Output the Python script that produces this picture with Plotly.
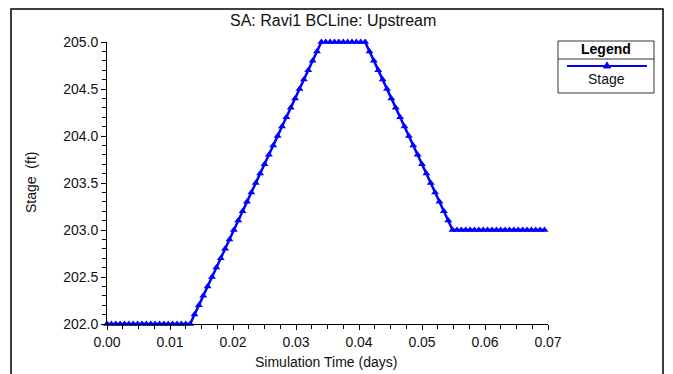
import plotly.graph_objects as go

# time step in minutes (converted to days below)
minutes = [0, 1, 2, 3, 4, 5, 6, 7, 8, 9, 10, 11, 12, 13, 14, 15, 16, 17, 18, 19,
           20, 21, 22, 23, 24, 25, 26, 27, 28, 29, 30, 31, 32, 33, 34, 35, 36, 37, 38, 39,
           40, 41, 42, 43, 44, 45, 46, 47, 48, 49, 50, 51, 52, 53, 54, 55, 56, 57, 58, 59,
           60, 61, 62, 63, 64, 65, 66, 67, 68, 69, 70, 71, 72, 73, 74, 75, 76, 77, 78, 79,
           80, 81, 82, 83, 84, 85, 86, 87, 88, 89, 90, 91, 92, 93, 94, 95, 96, 97, 98, 99, 100]
stage = [202.0, 202.0, 202.0, 202.0, 202.0, 202.0, 202.0, 202.0, 202.0, 202.0,
         202.0, 202.0, 202.0, 202.0, 202.0, 202.0, 202.0, 202.0, 202.0, 202.0,
         202.1, 202.2, 202.3, 202.4, 202.5, 202.6, 202.7, 202.8, 202.9, 203.0,
         203.1, 203.2, 203.3, 203.4, 203.5, 203.6, 203.7, 203.8, 203.9, 204.0,
         204.1, 204.2, 204.3, 204.4, 204.5, 204.6, 204.7, 204.8, 204.9, 205.0,
         205.0, 205.0, 205.0, 205.0, 205.0, 205.0, 205.0, 205.0, 205.0, 205.0,
         204.9, 204.8, 204.7, 204.6, 204.5, 204.4, 204.3, 204.2, 204.1, 204.0,
         203.9, 203.8, 203.7, 203.6, 203.5, 203.4, 203.3, 203.2, 203.1, 203.0,
         203.0, 203.0, 203.0, 203.0, 203.0, 203.0, 203.0, 203.0, 203.0, 203.0,
         203.0, 203.0, 203.0, 203.0, 203.0, 203.0, 203.0, 203.0, 203.0, 203.0, 203.0]
days = [m / 1440.0 for m in minutes]

title_text = "SA: Ravi1 BCLine: Upstream"
x_title = "Simulation Time (days)"
y_title = "Stage  (ft)"
legend_title = "Legend"
series_name = "Stage"

BLUE = "#0000FF"
FONT = "Liberation Sans, Arial, sans-serif"
TXT = "#111111"

W, H = 673, 374
L, R, T, B = 107, 125, 42, 50
pw, ph = W - L - R, H - T - B


def px(x):
    return (x - L) / pw


def py(y):
    return (H - B - y) / ph


fig = go.Figure()
fig.add_trace(go.Scatter(
    x=days, y=stage, mode="lines+markers", name=series_name,
    line=dict(color=BLUE, width=2.5),
    marker=dict(symbol="triangle-up", size=7, color=BLUE),
    cliponaxis=False, showlegend=False,
))

shapes = [
    # outer frame
    dict(type="rect", xref="paper", yref="paper", x0=px(11), x1=px(663), y0=py(378), y1=py(9),
         line=dict(color="black", width=1.5), layer="below"),
    # legend box
    dict(type="rect", xref="paper", yref="paper", x0=px(558), x1=px(654), y0=py(93), y1=py(41),
         line=dict(color="#333333", width=1)),
    dict(type="line", xref="paper", yref="paper", x0=px(558), x1=px(654), y0=py(59), y1=py(59),
         line=dict(color="#333333", width=1)),
    dict(type="line", xref="paper", yref="paper", x0=px(567), x1=px(647), y0=py(66), y1=py(66),
         line=dict(color=BLUE, width=2)),
    dict(type="path", xref="paper", yref="paper",
         path=f"M {px(603.5)},{py(68)} L {px(610.5)},{py(68)} L {px(607)},{py(62)} Z",
         fillcolor=BLUE, line=dict(color=BLUE, width=1)),
]

annotations = [
    dict(text=title_text, xref="paper", yref="paper", x=px(333), y=py(20), showarrow=False,
         font=dict(family=FONT, size=16, color=TXT), xanchor="center", yanchor="middle"),
    dict(text=x_title, xref="paper", yref="paper", x=px(326), y=py(362), showarrow=False,
         font=dict(family=FONT, size=14, color=TXT), xanchor="center", yanchor="middle"),
    dict(text=y_title, xref="paper", yref="paper", x=px(31), y=py(183), showarrow=False,
         textangle=-90, font=dict(family=FONT, size=14, color=TXT),
         xanchor="center", yanchor="middle"),
    dict(text="<b>" + legend_title + "</b>", xref="paper", yref="paper", x=px(606), y=py(49),
         showarrow=False, font=dict(family=FONT, size=14, color="black"),
         xanchor="center", yanchor="middle"),
    dict(text=series_name, xref="paper", yref="paper", x=px(606), y=py(79),
         showarrow=False, font=dict(family=FONT, size=14, color=TXT),
         xanchor="center", yanchor="middle"),
]

fig.update_layout(
    width=W, height=H,
    margin=dict(l=L, r=R, t=T, b=B, pad=0),
    paper_bgcolor="white", plot_bgcolor="white",
    font=dict(family=FONT, size=14, color=TXT),
    shapes=shapes, annotations=annotations,
    xaxis=dict(range=[0, 0.07], dtick=0.01, tick0=0, tickformat=".2f",
               showgrid=False, zeroline=False, showline=True, linecolor="black", linewidth=1,
               ticks="outside", ticklen=5, tickcolor="black",
               minor=dict(dtick=0.0025, ticks="outside", ticklen=4, tickcolor="black", showgrid=False),
               tickfont=dict(family=FONT, size=14, color=TXT)),
    yaxis=dict(range=[202, 205], dtick=0.5, tick0=202, tickformat=".1f",
               showgrid=False, zeroline=False, showline=True, linecolor="black", linewidth=1,
               ticks="outside", ticklen=5, tickcolor="black",
               minor=dict(dtick=0.1, ticks="outside", ticklen=4, tickcolor="black", showgrid=False),
               tickfont=dict(family=FONT, size=14, color=TXT)),
)

fig.write_html("out.html")
